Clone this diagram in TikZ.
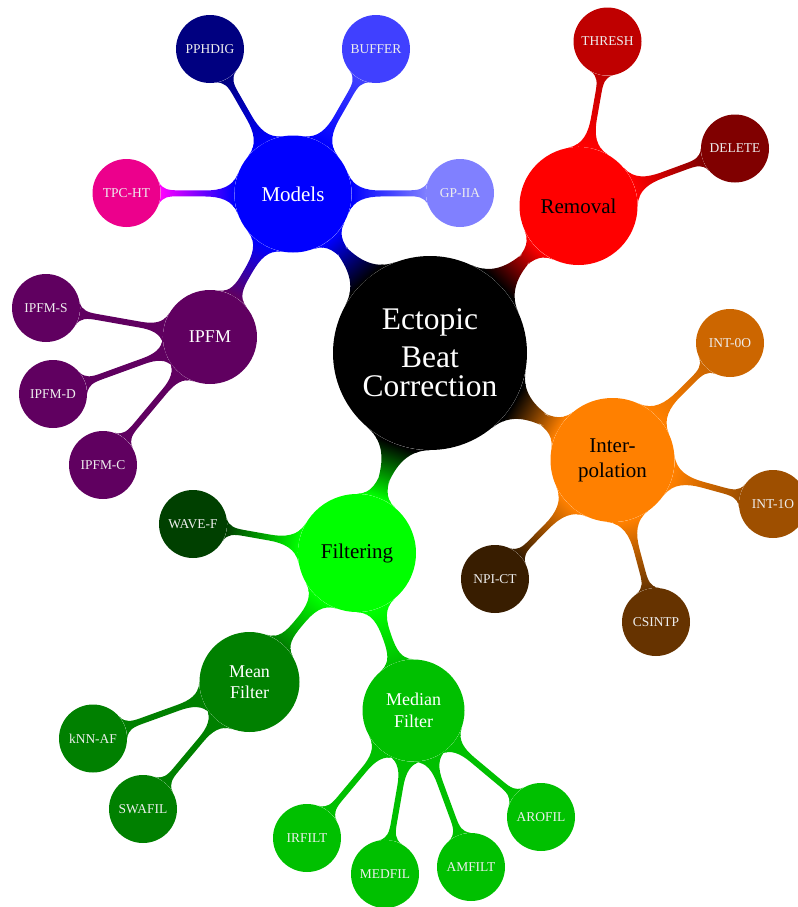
\documentclass[tikz,border=0pt]{standalone}
\usepackage{fontspec}
\setmainfont{Liberation Serif}
\usetikzlibrary{mindmap,backgrounds}
\definecolor{cBlue}{RGB}{0,0,255}
\definecolor{cNavy}{RGB}{0,0,128}
\definecolor{cBuffer}{RGB}{64,64,255}
\definecolor{cGp}{RGB}{128,128,255}
\definecolor{cTpc}{RGB}{236,0,140}
\definecolor{cMag}{RGB}{255,0,255}
\definecolor{cPurple}{RGB}{96,0,96}
\definecolor{cRed}{RGB}{255,0,0}
\definecolor{cThresh}{RGB}{191,0,0}
\definecolor{cDelete}{RGB}{128,0,0}
\definecolor{cOrange}{RGB}{255,128,0}
\definecolor{cIntZero}{RGB}{204,102,0}
\definecolor{cIntOne}{RGB}{158,79,0}
\definecolor{cCsintp}{RGB}{102,51,0}
\definecolor{cNpict}{RGB}{56,29,0}
\definecolor{cGreen}{RGB}{0,255,0}
\definecolor{cWave}{RGB}{0,64,0}
\definecolor{cMean}{RGB}{0,128,0}
\definecolor{cMedian}{RGB}{0,192,0}
\definecolor{leaftext}{RGB}{238,238,238}
\tikzset{
  bubble/.style={circle, inner sep=0pt, align=center},
  rootbubble/.style={bubble, minimum size=145.5pt, fill=black, text=white,
    font=\fontsize{23.6}{21.75}\selectfont},
  mainbubble/.style={bubble, font=\fontsize{15.75}{18.75}\selectfont},
  midbubble/.style={bubble, text=white, font=\fontsize{13.5}{16.2}\selectfont},
  leafbubble/.style={bubble, minimum size=51pt, text=leaftext,
    font=\fontsize{10.1}{12}\selectfont},
  barA/.style={line width=10pt},
  barB/.style={line width=7pt},
  barC/.style={line width=5.5pt},
  barD/.style={line width=4.5pt},
}
\begin{document}
\begin{tikzpicture}[x=0.75pt,y=-0.75pt]
\useasboundingbox (0,0) rectangle (798,907);
% root
\node[rootbubble] (root) at (430,353) {Ectopic\\[6.75pt]Beat\\Correction};
% level 1
\node[mainbubble, minimum size=87.75pt, fill=cBlue, text=white] (models) at (293,194) {Models};
\node[mainbubble, minimum size=88.5pt, fill=cRed, text=black] (removal) at (578.5,206) {Removal};
\node[mainbubble, minimum size=93pt, fill=cOrange, text=black] (interp) at (612.5,460) {Inter-\\polation};
\node[mainbubble, minimum size=88.5pt, fill=cGreen, text=black] (filtering) at (357,553) {Filtering};
% level 2
\node[midbubble, minimum size=70.5pt, fill=cPurple] (ipfm) at (210,337) {IPFM};
\node[midbubble, minimum size=75pt, fill=cMean] (mean) at (249.5,682) {Mean\\Filter};
\node[midbubble, minimum size=76.5pt, fill=cMedian] (median) at (413.5,710.5) {Median\\Filter};
% leaves of Models
\node[leafbubble, fill=cNavy] (pphdig) at (210,49) {PPHDIG};
\node[leafbubble, fill=cBuffer] (buffer) at (376,49) {BUFFER};
\node[leafbubble, fill=cGp] (gpiia) at (460,193) {GP-IIA};
\node[leafbubble, fill=cTpc] (tpcht) at (126.5,193) {TPC-HT};
% leaves of IPFM
\node[leafbubble, fill=cPurple] (ipfms) at (46,308) {IPFM-S};
\node[leafbubble, fill=cPurple] (ipfmd) at (53,394) {IPFM-D};
\node[leafbubble, fill=cPurple] (ipfmc) at (103,465) {IPFM-C};
% leaves of Removal
\node[leafbubble, fill=cThresh] (thresh) at (607.5,41.5) {THRESH};
\node[leafbubble, fill=cDelete] (delete) at (735,148.5) {DELETE};
% leaves of Interpolation
\node[leafbubble, fill=cIntZero] (intzero) at (730,343) {INT-0O};
\node[leafbubble, fill=cIntOne] (intone) at (773,504) {INT-1O};
\node[leafbubble, fill=cCsintp] (csintp) at (656,622) {CSINTP};
\node[leafbubble, fill=cNpict] (npict) at (495,579) {NPI-CT};
% leaves of Filtering
\node[leafbubble, fill=cWave] (wavef) at (193,524) {WAVE-F};
\node[leafbubble, fill=cMean] (knnaf) at (93,738.5) {kNN-AF};
\node[leafbubble, fill=cMean] (swafil) at (143,809) {SWAFIL};
\node[leafbubble, fill=cMedian] (irfilt) at (307,838) {IRFILT};
\node[leafbubble, fill=cMedian] (medfil) at (385,874) {MEDFIL};
\node[leafbubble, fill=cMedian] (amfilt) at (471,867) {AMFILT};
\node[leafbubble, fill=cMedian] (arofil) at (541,817) {AROFIL};
\begin{pgfonlayer}{background}
\path[barA] (root) to[circle connection bar switch color=from (black) to (cBlue)] (models);
\path[barA] (root) to[circle connection bar switch color=from (black) to (cRed)] (removal);
\path[barA] (root) to[circle connection bar switch color=from (black) to (cOrange)] (interp);
\path[barA] (root) to[circle connection bar switch color=from (black) to (cGreen)] (filtering);
\path[barB] (models) to[circle connection bar switch color=from (cBlue) to (cPurple)] (ipfm);
\path[barC] (models) to[circle connection bar switch color=from (cBlue) to (cNavy)] (pphdig);
\path[barC] (models) to[circle connection bar switch color=from (cBlue) to (cBuffer)] (buffer);
\path[barC] (models) to[circle connection bar switch color=from (cBlue) to (cGp)] (gpiia);
\path[barC] (models) to[circle connection bar switch color=from (cBlue) to (cMag)] (tpcht);
\path[barD] (ipfm) to[circle connection bar switch color=from (cPurple) to (cPurple)] (ipfms);
\path[barD] (ipfm) to[circle connection bar switch color=from (cPurple) to (cPurple)] (ipfmd);
\path[barD] (ipfm) to[circle connection bar switch color=from (cPurple) to (cPurple)] (ipfmc);
\path[barC] (removal) to[circle connection bar switch color=from (cRed) to (cThresh)] (thresh);
\path[barC] (removal) to[circle connection bar switch color=from (cRed) to (cDelete)] (delete);
\path[barC] (interp) to[circle connection bar switch color=from (cOrange) to (cIntZero)] (intzero);
\path[barC] (interp) to[circle connection bar switch color=from (cOrange) to (cIntOne)] (intone);
\path[barC] (interp) to[circle connection bar switch color=from (cOrange) to (cCsintp)] (csintp);
\path[barC] (interp) to[circle connection bar switch color=from (cOrange) to (cNpict)] (npict);
\path[barC] (filtering) to[circle connection bar switch color=from (cGreen) to (cWave)] (wavef);
\path[barB] (filtering) to[circle connection bar switch color=from (cGreen) to (cMean)] (mean);
\path[barB] (filtering) to[circle connection bar switch color=from (cGreen) to (cMedian)] (median);
\path[barD] (mean) to[circle connection bar switch color=from (cMean) to (cMean)] (knnaf);
\path[barD] (mean) to[circle connection bar switch color=from (cMean) to (cMean)] (swafil);
\path[barD] (median) to[circle connection bar switch color=from (cMedian) to (cMedian)] (irfilt);
\path[barD] (median) to[circle connection bar switch color=from (cMedian) to (cMedian)] (medfil);
\path[barD] (median) to[circle connection bar switch color=from (cMedian) to (cMedian)] (amfilt);
\path[barD] (median) to[circle connection bar switch color=from (cMedian) to (cMedian)] (arofil);
\end{pgfonlayer}
\end{tikzpicture}
\end{document}
